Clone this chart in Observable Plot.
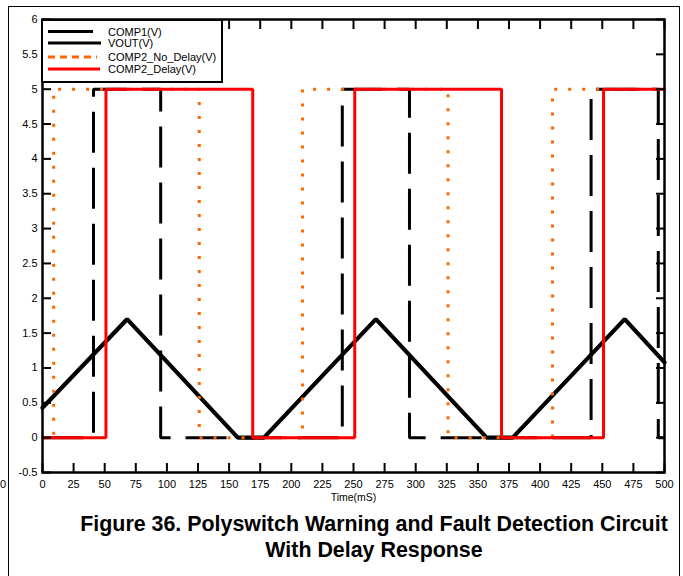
<!DOCTYPE html>
<html>
<head>
<meta charset="utf-8">
<script src="https://cdn.jsdelivr.net/npm/d3@7"></script>
<script src="https://cdn.jsdelivr.net/npm/@observablehq/plot@0.6"></script>
<style>
  html, body { margin: 0; padding: 0; background: #fff; }
  #wrap { position: relative; width: 683px; height: 576px; overflow: hidden; font-family: "Liberation Sans", Arial, sans-serif; }
  #page { position: absolute; left: 8px; top: 6px; width: 670px; height: 600px; border-left: 1.5px solid #000; border-top: 1.5px solid #000; border-right: 1.5px solid #000; }
  #chart { position: absolute; left: 0; top: 0; }
  #legend { position: absolute; left: 41px; top: 19px; }
  #title { position: absolute; left: 0; width: 748px; top: 511px; text-align: center; font-weight: bold; font-size: 21.4px; line-height: 26px; color: #000; white-space: nowrap; }
  #stray { position: absolute; left: 0px; top: 478px; font-size: 11px; color: #000; }
</style>
</head>
<body>
<div id="wrap">
  <div id="page"></div>
  <div id="chart"></div>
  <div id="legend"></div>
  <div id="stray">0</div>
  <div id="title"></div>
</div>
<script>
// ---- data ----
const seriesNames = ["COMP1(V)", "VOUT(V)", "COMP2_No_Delay(V)", "COMP2_Delay(V)"];
const seriesColors = ["#000000", "#000000", "#ff6600", "#ff0000"];

const comp1Time = [0, 68, 157, 178, 268, 357, 378, 468, 500];
const comp1Volt = [0.43, 1.7, 0, 0, 1.7, 0, 0, 1.7, 1.08];

const voutTime = [0, 41, 95, 241, 295, 441, 495, 500];
const voutVolt = [0, 5, 0, 5, 0, 5, 0, 0];

const noDelayTime = [0, 9, 126, 209, 326, 410, 500];
const noDelayVolt = [0, 5, 0, 5, 0, 5, 5];

const delayTime = [0, 51, 169, 251, 369, 451, 500];
const delayVolt = [0, 5, 0, 5, 0, 5, 5];

const xTicks = [0, 25, 50, 75, 100, 125, 150, 175, 200, 225, 250, 275, 300, 325, 350, 375, 400, 425, 450, 475, 500];
const yTicks = [-0.5, 0, 0.5, 1, 1.5, 2, 2.5, 3, 3.5, 4, 4.5, 5, 5.5, 6];
const yTickLabels = ["-0.5", "0", "0.5", "1", "1.5", "2", "2.5", "3", "3.5", "4", "4.5", "5", "5.5", "6"];
const xTitle = "Time(mS)";
const titleLines = ["Figure 36. Polyswitch Warning and Fault Detection Circuit", "With Delay Response"];

// ---- build tables ----
const toRows = (ts, vs) => ts.map((t, i) => ({t, v: vs[i]}));
const comp1 = toRows(comp1Time, comp1Volt);
const vout = toRows(voutTime, voutVolt);
const noDelay = toRows(noDelayTime, noDelayVolt);
const delay = toRows(delayTime, delayVolt);

const chart = Plot.plot({
  width: 683,
  height: 510,
  marginLeft: 42,
  marginRight: 19,
  marginTop: 19,
  marginBottom: 38,
  style: {fontFamily: "Liberation Sans, Arial, sans-serif", fontSize: "11px", color: "#000", background: "transparent"},
  x: {domain: [0, 500]},
  y: {domain: [-0.5, 6]},
  marks: [
    Plot.line(comp1, {x: "t", y: "v", stroke: seriesColors[0], strokeWidth: 4.2, strokeLinejoin: "miter"}),
    Plot.line(vout, {x: "t", y: "v", curve: "step-after", stroke: seriesColors[1], strokeWidth: 3, strokeDasharray: "41,15", strokeLinejoin: "miter", strokeLinecap: "butt"}),
    Plot.line(noDelay, {x: "t", y: "v", curve: "step-after", stroke: seriesColors[2], strokeWidth: 3, strokeDasharray: "3,11", strokeLinecap: "butt"}),
    Plot.line(delay, {x: "t", y: "v", curve: "step-after", stroke: seriesColors[3], strokeWidth: 3, strokeLinejoin: "miter"}),
    Plot.frame({stroke: "#000", strokeWidth: 2.5}),
    Plot.axisX({anchor: "bottom", ticks: xTicks, tickSize: -9, tickPadding: 17, strokeWidth: 2, label: null, tickFormat: d => String(d), fontSize: 11}),
    Plot.axisX({anchor: "top", ticks: xTicks, tickSize: -9, strokeWidth: 2, label: null, tickFormat: () => ""}),
    Plot.axisY({anchor: "left", ticks: yTicks, tickSize: -9, tickPadding: 14, strokeWidth: 2, label: null, tickFormat: d => yTickLabels[yTicks.indexOf(d)], fontSize: 11}),
    Plot.axisY({anchor: "right", ticks: yTicks, tickSize: -9, strokeWidth: 2, label: null, tickFormat: () => ""}),
    Plot.text([xTitle], {frameAnchor: "bottom", dy: 28, text: d => d, fontSize: 10.5, fill: "#000"})
  ]
});
document.getElementById("chart").appendChild(chart);

// ---- legend ----
const lg = d3.select("#legend").append("svg").attr("width", 183).attr("height", 65);
lg.append("rect").attr("x", 1).attr("y", 1).attr("width", 180).attr("height", 62)
  .attr("fill", "#fff").attr("stroke", "#000").attr("stroke-width", 2);
const rowsY = [12.5, 24, 38, 50];
const lineEnds = [52, 60, 56, 59];
const dashes = [null, null, "7,5", null];
seriesNames.forEach((name, i) => {
  lg.append("line").attr("x1", 7).attr("x2", lineEnds[i]).attr("y1", rowsY[i]).attr("y2", rowsY[i])
    .attr("stroke", seriesColors[i]).attr("stroke-width", 3)
    .attr("stroke-dasharray", dashes[i]);
  lg.append("text").attr("x", 67).attr("y", rowsY[i] + 4).text(name)
    .attr("font-family", "Liberation Sans, Arial, sans-serif").attr("font-size", 11).attr("fill", "#000");
});

// ---- title ----
document.getElementById("title").innerHTML = titleLines.join("<br>");
</script>
</body>
</html>
